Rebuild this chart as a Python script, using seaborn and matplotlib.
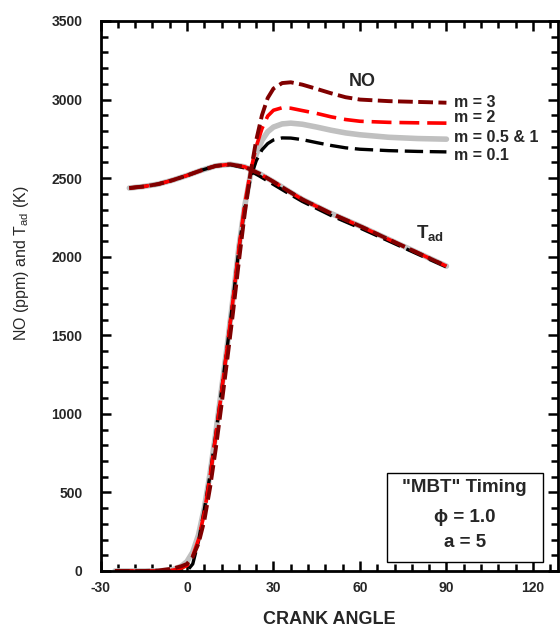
import numpy as np
import pandas as pd
import matplotlib
matplotlib.use("Agg")
import matplotlib.pyplot as plt
from matplotlib.patches import Rectangle
from matplotlib.ticker import MultipleLocator
import seaborn as sns

# ---------------- data ----------------
no_x = [-25, -20, -15, -10, -5, -2, 0, 2, 4, 6, 8, 10, 12, 14, 16, 18, 20,
        22, 24, 26, 28, 30, 33, 36, 40, 45, 50, 55, 60, 70, 80, 90]
no_m3 = [0, 0, 0, 3, 15, 30, 45, 90, 175, 320, 530, 780, 1060, 1350, 1650, 1970, 2270,
         2530, 2740, 2900, 3010, 3070, 3105, 3110, 3095, 3068, 3040, 3015, 3000, 2990, 2985, 2980]
no_m2 = [0, 0, 0, 0, 5, 18, 35, 95, 200, 370, 600, 860, 1140, 1430, 1730, 2050, 2330,
         2540, 2700, 2815, 2895, 2932, 2948, 2945, 2930, 2912, 2890, 2873, 2862, 2855, 2852, 2850]
no_m1 = [0, 0, 0, 0, 8, 30, 60, 120, 230, 400, 620, 880, 1160, 1440, 1740, 2060, 2320,
         2520, 2650, 2740, 2795, 2825, 2845, 2850, 2843, 2825, 2805, 2788, 2776, 2760, 2752, 2748]
no_m05 = [0, 0, 0, 0, 0, 8, 35, 115, 240, 415, 640, 900, 1180, 1460, 1760, 2075, 2330,
          2525, 2658, 2748, 2803, 2833, 2853, 2858, 2850, 2832, 2812, 2795, 2783, 2767, 2759, 2755]
no_m01 = [0, 0, 0, 0, 0, 0, 0, 45, 190, 390, 610, 870, 1150, 1430, 1730, 2050, 2310,
          2500, 2610, 2680, 2720, 2743, 2756, 2755, 2745, 2726, 2708, 2693, 2684, 2675, 2670, 2667]

tad_x = [-20, -15, -10, -5, 0, 5, 10, 15, 20, 25, 30, 35, 40, 50, 60, 70, 80, 90]
tad_common = [2437, 2447, 2462, 2487, 2517, 2550, 2578, 2588, 2572, 2530, 2477, 2420, 2365,
              2275, 2195, 2110, 2025, 1940]
tad_m01 = [2437, 2447, 2462, 2487, 2517, 2550, 2578, 2586, 2565, 2515, 2460, 2405, 2352,
           2262, 2183, 2100, 2017, 1935]

x_ticks = [-30, 0, 30, 60, 90, 120]
y_ticks = [0, 500, 1000, 1500, 2000, 2500, 3000, 3500]
curve_labels = ["m = 3", "m = 2", "m = 0.5 & 1", "m = 0.1"]
box_lines = ['"MBT" Timing', "\u03d5 = 1.0", "a = 5"]

# ---------------- style ----------------
sns.set_style("ticks")
plt.rcParams["font.family"] = ["Liberation Sans", "DejaVu Sans"]
plt.rcParams["mathtext.fontset"] = "custom"
plt.rcParams["mathtext.rm"] = "Liberation Sans"
plt.rcParams["mathtext.bf"] = "Liberation Sans:bold"
plt.rcParams["mathtext.it"] = "Liberation Sans:italic"

fig = plt.figure(figsize=(5.6, 6.31), dpi=100)
ax = fig.add_axes([100.5 / 560, 1 - 571 / 631, 457.5 / 560, 550 / 631])

GREY = "#c0c0c0"
GREEN = "#00ff00"
BLACK = "#000000"
RED = "#ff0000"
DRED = "#800000"

def draw(x, y, color, lw, ls, z):
    sns.lineplot(x=x, y=y, ax=ax, color=color, linewidth=lw, linestyle=ls,
                 estimator=None, sort=False, zorder=z)

# T_ad curves
draw(tad_x, tad_common, GREEN, 1.2, "-", 2.0)
draw(tad_x, tad_common, GREY, 4.0, "-", 2.1)
draw(tad_x, tad_m01, BLACK, 2.4, (0, (5.5, 2.0)), 2.2)
draw(tad_x, tad_common, RED, 2.6, (0, (5.5, 2.2)), 2.3)
draw(tad_x, tad_common, DRED, 2.8, (0, (3.8, 1.4)), 2.4)

# NO curves
draw(no_x, no_m05, GREEN, 1.2, "-", 2.0)
draw(no_x, no_m1, GREY, 4.0, "-", 2.1)
draw(no_x, no_m01, BLACK, 2.4, (0, (5.5, 2.0)), 2.2)
draw(no_x, no_m2, RED, 2.6, (0, (5.5, 2.2)), 2.3)
draw(no_x, no_m3, DRED, 2.8, (0, (3.8, 1.4)), 2.4)

ax.set_xlim(-30, 128.7)
ax.set_ylim(0, 3500)
ax.xaxis.set_major_locator(MultipleLocator(30))
ax.xaxis.set_minor_locator(MultipleLocator(6))
ax.yaxis.set_major_locator(MultipleLocator(500))
ax.yaxis.set_minor_locator(MultipleLocator(100))
ax.set_xticks(x_ticks)
ax.set_yticks(y_ticks)
ax.set_xticklabels([str(v) for v in x_ticks])
ax.set_yticklabels([str(v) for v in y_ticks])

ax.tick_params(which="both", direction="in", top=True, right=True,
               width=1.8, color="black")
ax.tick_params(which="major", length=7.5)
ax.tick_params(which="minor", length=5)
ax.tick_params(axis="y", which="major", pad=13, labelsize=10)
ax.tick_params(axis="x", which="major", pad=7, labelsize=10)
for lab in ax.get_xticklabels() + ax.get_yticklabels():
    lab.set_fontweight("bold")
for s in ax.spines.values():
    s.set_linewidth(2.0)
    s.set_color("black")
    s.set_visible(True)

ax.set_xlabel("CRANK ANGLE", fontsize=13, fontweight="bold", va="center")
ax.xaxis.set_label_coords(0.5, -0.089)
ax.set_ylabel("NO (ppm) and T$_{\\mathrm{ad}}$ (K)", fontsize=11.5,
              va="center", ha="center")
ax.yaxis.set_label_coords(-0.173, 0.56)

# annotations
ax.text(60.7, 3114, "NO", fontsize=13, fontweight="bold", ha="center", va="center")
for lab, yv in zip(curve_labels, [2980, 2889, 2760, 2647]):
    ax.text(92.5, yv, lab, fontsize=11.5, fontweight="bold", ha="left", va="center")
ax.text(79.5, 2150, "$\\mathbf{T}_{\\mathbf{ad}}$", fontsize=13.5, ha="left", va="center")

ax.add_patch(Rectangle((0.626, 0.0164), 0.341, 0.162, transform=ax.transAxes,
                       fill=True, facecolor="white", edgecolor="black", linewidth=1.0,
                       zorder=5))
for t, yy in zip(box_lines, [0.151, 0.098, 0.051]):
    ax.text(0.796, yy, t, transform=ax.transAxes, fontsize=13.5, fontweight="bold",
            ha="center", va="center", zorder=6)

fig.savefig("out.png", dpi=100)
